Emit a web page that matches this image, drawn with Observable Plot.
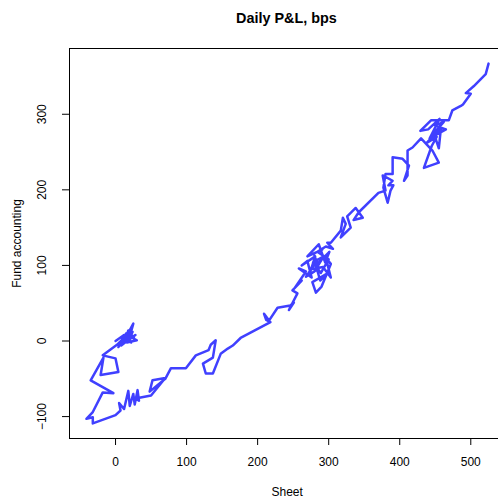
<!DOCTYPE html>
<html><head><meta charset="utf-8">
<script src="https://cdn.jsdelivr.net/npm/d3@7"></script>
<script src="https://cdn.jsdelivr.net/npm/@observablehq/plot@0.6"></script>
<style>
html,body{margin:0;padding:0;background:#fff;overflow:hidden}
#wrap{position:relative;width:498px;height:498px;font-family:"Liberation Sans",Arial,sans-serif}
#title{position:absolute;left:69px;width:435px;top:9px;text-align:center;font-weight:bold;font-size:14.4px;line-height:18px;color:#000}
#wrap svg{position:absolute;left:0;top:0}
</style></head><body>
<div id="wrap"><div id="title">Daily P&amp;L, bps</div></div>
<script>
const sheet = [0,12,6,18,10,22,14,25,20,30,16,24,8,20,28,12,18,26,10,22,15,4,14,2,-18,0,4,-21,-17,-35,-3,-18,-32,-41,-32,-32,0,7,5,12,18,20,25,27,31,33,28,50,70,52,48,70,78,99,113,131,134,141,137,123,127,137,148,158,165,176,218,212,209,216,228,246,251,244,256,249,262,252,268,258,276,270,262,281,273,286,279,291,270,286,295,301,282,288,299,277,282,290,303,296,303,292,275,285,268,280,293,278,289,300,284,296,306,298,303,317,320,324,317,331,326,338,348,335,342,370,380,376,390,384,391,387,383,377,380,390,390,404,413,406,411,411,418,430,446,455,434,445,452,438,458,455,448,462,450,465,442,456,440,429,444,469,474,486,489,500,493,504,521,525];
const fund = [0,8,-4,10,2,14,4,23,6,1,-2,12,-6,3,8,-3,14,4,6,-2,10,-8,6,-5,-19,-23,-41,-45,-22,-52,-69,-68,-94,-103,-101,-109,-98,-92,-82,-90,-66,-86,-70,-84,-65,-79,-76,-72,-49,-52,-67,-50,-36,-36,-19,-12,-5,1,-22,-30,-43,-43,-17,-10,-6,4,25,28,36,27,44,47,51,41,63,67,80,70,92,96,84,106,100,112,88,96,116,121,112,128,104,118,100,80,90,78,64,72,102,110,84,98,95,108,85,92,112,104,90,108,118,125,122,130,130,146,163,155,137,150,165,176,163,160,170,196,199,219,212,206,206,199,183,203,221,221,243,241,232,212,219,252,256,268,252,236,229,258,270,262,282,255,275,290,285,280,268,294,280,278,292,292,305,311,313,327,328,337,353,367];
const xTicks = [0,100,200,300,400,500];
const yTicks = [-100,0,100,200,300];
const xLabel = "Sheet";
const yLabel = "Fund accounting";

const data = sheet.map((s,i)=>({sheet:s, fund:fund[i]}));
const fmt = d => d < 0 ? "\u2212" + Math.abs(d) : String(d);

const chart = Plot.plot({
  width:498, height:498,
  marginLeft:69, marginRight:0, marginTop:48, marginBottom:60,
  style:{fontFamily:"'Liberation Sans', Arial, sans-serif", fontSize:"12px", background:"transparent", color:"#000"},
  x:{domain:[-64.8,539]},
  y:{domain:[-129,387]},
  marks:[
    Plot.ruleX([-64.8], {stroke:"#000", strokeWidth:1}),
    Plot.ruleY([-129, 387], {stroke:"#000", strokeWidth:1}),
    Plot.axisX({ticks:xTicks, tickSize:7, tickPadding:12, tickFormat:fmt, label:null, fontSize:12}),
    Plot.axisY({ticks:yTicks, tickSize:7, tickFormat:()=>"", label:null}),
    Plot.text(yTicks, {y:d=>d, text:fmt, frameAnchor:"left", dx:-27, rotate:-90, textAnchor:"middle", lineAnchor:"middle", fontSize:12, fill:"#000"}),
    Plot.text([xLabel], {x:()=>241.5, text:d=>d, frameAnchor:"bottom", dy:54, lineAnchor:"middle", fontSize:12, fill:"#000"}),
    Plot.text([yLabel], {text:d=>d, frameAnchor:"left", dx:-52, rotate:-90, textAnchor:"middle", lineAnchor:"middle", fontSize:12, fill:"#000"}),
    Plot.line(data, {x:"sheet", y:"fund", stroke:"#4040ff", strokeWidth:2.5, strokeLinejoin:"round"})
  ]
});
document.getElementById("wrap").appendChild(chart);
</script>
</body></html>
